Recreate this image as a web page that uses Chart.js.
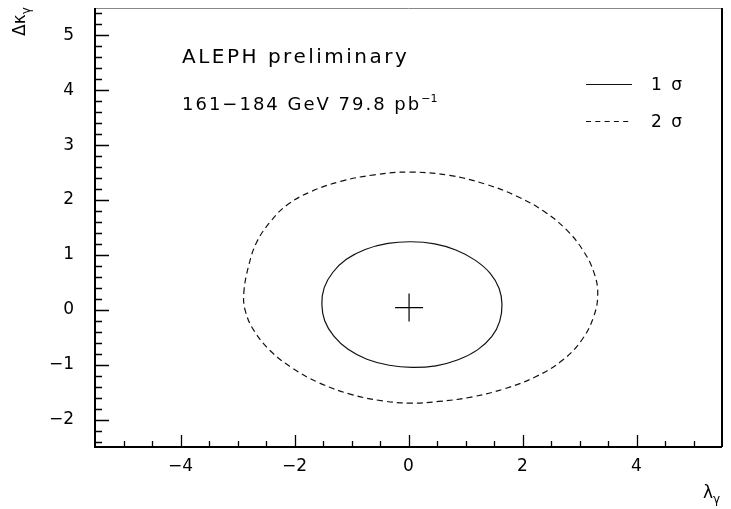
<!DOCTYPE html>
<html>
<head>
<meta charset="utf-8">
<script src="https://cdn.jsdelivr.net/npm/chart.js@4.4.1/dist/chart.umd.min.js"></script>
<style>
    html, body { margin: 0; padding: 0; background: #fff; }
</style>
</head>
<body>
<canvas id="myChart" width="731" height="509"></canvas>
<script>
// contour points: x = lambda_gamma, y = delta kappa_gamma
const sigma1X = [1.64, 1.59, 1.43, 1.16, 0.83, 0.46, 0.05, -0.36, -0.76, -1.09, -1.33, -1.48, -1.52, -1.47, -1.31, -1.06, -0.73, -0.34, 0.06, 0.48, 0.87, 1.21, 1.46, 1.60];
const sigma1Y = [0.10, 0.39, 0.67, 0.91, 1.09, 1.20, 1.24, 1.21, 1.10, 0.92, 0.68, 0.40, 0.10, -0.20, -0.48, -0.72, -0.90, -1.01, -1.05, -1.02, -0.91, -0.73, -0.49, -0.21];

const sigma2X = [-2.89, -2.80, -2.66, -2.42, -2.13, -1.72, -1.19, -0.60, 0.02, 0.72, 1.35, 1.90, 2.37, 2.77, 3.07, 3.26, 3.32, 3.25, 3.04, 2.70, 2.23, 1.68, 1.10, 0.53, 0.04, -0.45, -1.01, -1.57, -2.04, -2.42, -2.71, -2.86];
const sigma2Y = [0.30, 0.82, 1.24, 1.61, 1.91, 2.15, 2.34, 2.46, 2.51, 2.45, 2.29, 2.07, 1.80, 1.46, 1.07, 0.66, 0.28, -0.12, -0.55, -0.92, -1.22, -1.44, -1.59, -1.67, -1.70, -1.66, -1.54, -1.33, -1.06, -0.75, -0.38, -0.03];

const bestFitX = [0.01];
const bestFitY = [0.04];

const xTickLabels = [-4, -2, 0, 2, 4];
const yTickLabels = [-2, -1, 0, 1, 2, 3, 4, 5];
const xRange = [-5.5, 5.5];
const yRange = [-2.5, 5.5];

const FONT = 'DejaVu Sans';

function toPoints(xs, ys) {
    return xs.map((x, i) => ({x: x, y: ys[i]}));
}

function fmt(v) {
    return v < 0 ? '\u2212' + Math.abs(v) : String(v);
}

// contours are closed curves: let the line element treat them as a loop (like radar)
const closeLoops = {
    id: 'closeLoops',
    afterDatasetUpdate(chart, args) {
        const ds = chart.data.datasets[args.index];
        if (ds.closed && args.meta.dataset) {
            args.meta.dataset._loop = true;
            args.meta.dataset._fullLoop = true;
        }
    }
};

// frame, inward tick marks, labels and legend (PAW style)
const paw = {
    id: 'paw',
    afterDraw(chart) {
        const ctx = chart.ctx;
        const a = chart.chartArea;
        const xs = chart.scales.x, ys = chart.scales.y;
        ctx.save();

        // frame
        ctx.strokeStyle = '#888';
        ctx.lineWidth = 1;
        ctx.beginPath();
        ctx.moveTo(a.left, a.top + 0.5);
        ctx.lineTo(a.right, a.top + 0.5);
        ctx.stroke();
        ctx.strokeStyle = '#000';
        ctx.lineWidth = 2;
        ctx.beginPath();
        ctx.moveTo(a.left, a.top);
        ctx.lineTo(a.left, a.bottom);
        ctx.lineTo(a.right, a.bottom);
        ctx.moveTo(a.right, a.top);
        ctx.lineTo(a.right, a.bottom);
        ctx.stroke();

        // ticks pointing inside
        ctx.lineWidth = 1.3;
        ctx.beginPath();
        for (let v = -5; v <= 5.001; v += 0.5) {
            const px = Math.round(xs.getPixelForValue(v)) + 0.5;
            const len = Math.abs(v % 2) < 0.01 ? 12 : 6;
            ctx.moveTo(px, a.bottom);
            ctx.lineTo(px, a.bottom - len);
        }
        for (let i = -12; i <= 27; i++) {
            const v = i * 0.2;
            const py = Math.round(ys.getPixelForValue(v)) + 0.5;
            const len = i % 5 === 0 ? 14 : 7;
            ctx.moveTo(a.left, py);
            ctx.lineTo(a.left + len, py);
        }
        ctx.stroke();

        ctx.fillStyle = '#000';
        ctx.textAlign = 'left';
        ctx.textBaseline = 'alphabetic';

        // annotation text
        ctx.font = '20px ' + FONT;
        ctx.letterSpacing = '2.5px';
        ctx.fillText('ALEPH preliminary', 182, 63);
        ctx.font = '18px ' + FONT;
        ctx.letterSpacing = '2px';
        const line2 = '161\u2212184 GeV 79.8 pb';
        ctx.fillText(line2, 182, 110);
        const w2 = ctx.measureText(line2).width;
        ctx.font = '11px ' + FONT;
        ctx.letterSpacing = '0px';
        ctx.fillText('\u22121', 182 + w2, 102);

        // legend
        ctx.strokeStyle = '#111';
        ctx.lineWidth = 1.2;
        ctx.beginPath();
        ctx.moveTo(586, 84.5);
        ctx.lineTo(632, 84.5);
        ctx.stroke();
        ctx.setLineDash([5, 4.3]);
        ctx.beginPath();
        ctx.moveTo(586, 121.5);
        ctx.lineTo(632, 121.5);
        ctx.stroke();
        ctx.setLineDash([]);
        ctx.font = '17px ' + FONT;
        ctx.letterSpacing = '2px';
        ctx.fillText('1 \u03c3', 651, 90);
        ctx.fillText('2 \u03c3', 651, 127);
        ctx.letterSpacing = '0px';

        // axis titles
        ctx.font = '17px ' + FONT;
        ctx.fillText('\u03bb', 703, 498);
        const wl = ctx.measureText('\u03bb').width;
        ctx.font = '12px ' + FONT;
        ctx.fillText('\u03b3', 703 + wl, 503);

        ctx.translate(25, 36);
        ctx.rotate(-Math.PI / 2);
        ctx.font = '17px ' + FONT;
        ctx.fillText('\u0394\u03ba', 0, 0);
        const wk = ctx.measureText('\u0394\u03ba').width;
        ctx.font = '12px ' + FONT;
        ctx.fillText('\u03b3', wk, 5);

        ctx.restore();
    }
};

const lineStyle = {
    showLine: true,
    closed: true,
    spanGaps: true,
    borderColor: '#111',
    borderWidth: 1.2,
    pointRadius: 0,
    tension: 0.4,
    fill: false
};

// keep the plot box fixed: no extra room for edge labels
function fixBox(s, w, h) {
    if (w) s.width = w;
    if (h) s.height = h;
    s.paddingTop = 0; s.paddingBottom = 0; s.paddingLeft = 0; s.paddingRight = 0;
}

const ctx = document.getElementById('myChart');
const myChart = new Chart(ctx, {
    type: 'scatter',
    data: {
        datasets: [
            Object.assign({label: '1 \u03c3', data: toPoints(sigma1X, sigma1Y)}, lineStyle),
            Object.assign({label: '2 \u03c3', data: toPoints(sigma2X, sigma2Y), borderDash: [6, 4]}, lineStyle),
            {
                label: 'best fit',
                data: toPoints(bestFitX, bestFitY),
                pointStyle: 'cross',
                pointRadius: 14,
                borderColor: '#000',
                borderWidth: 1.2,
                showLine: false
            }
        ]
    },
    options: {
        responsive: false,
        animation: false,
        events: [],
        devicePixelRatio: 1,
        layout: { autoPadding: false, padding: { top: 8, right: 9, left: 0, bottom: 0 } },
        scales: {
            x: {
                type: 'linear',
                min: xRange[0],
                max: xRange[1],
                afterBuildTicks: s => { s.ticks = xTickLabels.map(v => ({value: v})); },
                afterFit: s => fixBox(s, 0, 62),
                grid: { display: false, drawTicks: false },
                border: { display: false },
                ticks: {
                    padding: 9,
                    color: '#000',
                    font: { family: FONT, size: 17 },
                    maxRotation: 0,
                    callback: v => fmt(v)
                }
            },
            y: {
                type: 'linear',
                min: yRange[0],
                max: yRange[1],
                afterBuildTicks: s => { s.ticks = yTickLabels.map(v => ({value: v})); },
                afterFit: s => fixBox(s, 95, 0),
                grid: { display: false, drawTicks: false },
                border: { display: false },
                ticks: {
                    padding: 21,
                    color: '#000',
                    font: { family: FONT, size: 17 },
                    callback: v => fmt(v)
                }
            }
        },
        plugins: {
            legend: { display: false },
            tooltip: { enabled: false },
            title: { display: false }
        }
    },
    plugins: [closeLoops, paw]
});
</script>
</body>
</html>
